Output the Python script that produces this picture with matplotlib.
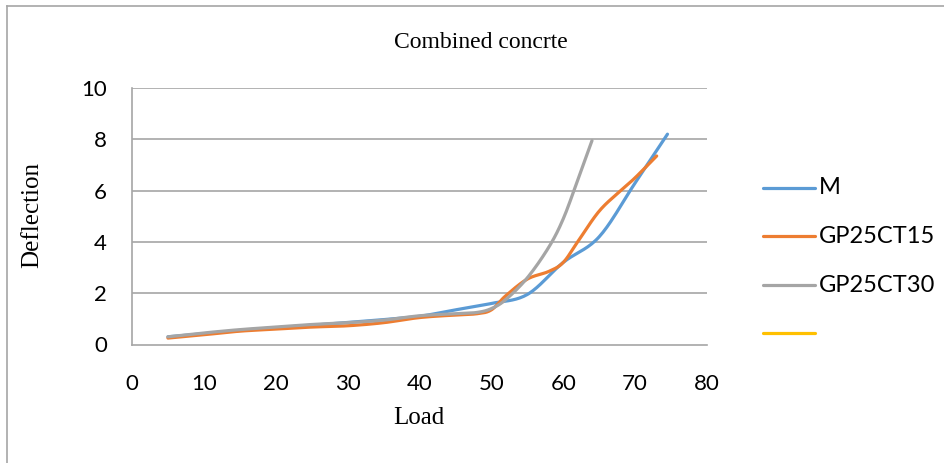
import numpy as np
import matplotlib
matplotlib.use("Agg")
import matplotlib.pyplot as plt
from matplotlib.lines import Line2D

# ---- data ----
load_m = [5, 10, 15, 20, 25, 30, 35, 40, 45, 50, 55, 60, 65, 70, 74.5]
defl_m = [0.3, 0.42, 0.55, 0.65, 0.75, 0.86, 0.97, 1.1, 1.35, 1.6, 1.95, 3.2, 4.2, 6.3, 8.2]

load_c15 = [5, 10, 15, 20, 25, 30, 35, 40, 45, 48, 50, 52, 55, 58, 60, 62, 65, 68, 70, 73]
defl_c15 = [0.25, 0.38, 0.52, 0.6, 0.68, 0.73, 0.85, 1.05, 1.15, 1.2, 1.35, 1.9, 2.55, 2.85, 3.2, 4.0, 5.2, 6.0, 6.5, 7.35]

load_c30 = [5, 10, 15, 20, 25, 30, 35, 40, 45, 48, 50, 52, 55, 58, 60, 62, 64]
defl_c30 = [0.3, 0.45, 0.58, 0.68, 0.78, 0.85, 0.95, 1.12, 1.2, 1.25, 1.4, 1.75, 2.6, 3.8, 4.9, 6.4, 7.95]

series_names = ["M", "GP25CT15", "GP25CT30", ""]
colors = ["#5B9BD5", "#ED7D31", "#A5A5A5", "#FFC000"]
x_ticks = [0, 10, 20, 30, 40, 50, 60, 70, 80]
y_ticks = [0, 2, 4, 6, 8, 10]

W, H = 945, 463


def smooth(x, y, n=20):
    """Excel-like smoothed line (Catmull-Rom Bezier) drawn through the points."""
    P = np.column_stack([np.asarray(x, float), np.asarray(y, float)])
    out = [P[0]]
    t = np.linspace(0, 1, n)[1:]
    for i in range(len(P) - 1):
        p0 = P[i - 1] if i > 0 else P[i]
        p1 = P[i]
        p2 = P[i + 1]
        p3 = P[i + 2] if i + 2 < len(P) else P[i + 1]
        c1 = p1 + (p2 - p0) / 6.0
        c2 = p2 - (p3 - p1) / 6.0
        for tt in t:
            b = ((1 - tt) ** 3) * p1 + 3 * ((1 - tt) ** 2) * tt * c1 + 3 * (1 - tt) * tt ** 2 * c2 + tt ** 3 * p2
            out.append(b)
    out = np.array(out)
    return out[:, 0], out[:, 1]


def fx(px):
    return px / W


def fy(py):
    return 1 - py / H


fig = plt.figure(figsize=(9.45, 4.63), dpi=100)
fig.patch.set_facecolor("white")

# outer chart border (only top and left are visible in the reference)
fig.add_artist(Line2D([fx(7), fx(7)], [0, fy(6)], transform=fig.transFigure, color="#A6A6A6", lw=1.2))
fig.add_artist(Line2D([fx(7), 1], [fy(6), fy(6)], transform=fig.transFigure, color="#A6A6A6", lw=1.2))

ax = fig.add_axes([fx(132), fy(344.5), (707 - 132) / W, (344.5 - 88) / H])
ax.set_xlim(0, 80)
ax.set_ylim(0, 10)

for yt in y_ticks[1:]:
    ax.axhline(yt, color="#A6A6A6", lw=1.2, zorder=1)

for name, xs, ys, c in zip(series_names[:3], [load_m, load_c15, load_c30], [defl_m, defl_c15, defl_c30], colors[:3]):
    sx, sy = smooth(xs, ys)
    ax.plot(sx, sy, color=c, lw=2.3, solid_capstyle="round", zorder=3, label=name)

for s in ["top", "right"]:
    ax.spines[s].set_visible(False)
for s in ["left", "bottom"]:
    ax.spines[s].set_color("#A6A6A6")
    ax.spines[s].set_linewidth(1.2)

ax.set_xticks(x_ticks)
ax.set_yticks(y_ticks)
ax.tick_params(length=0, labelsize=16)
ax.tick_params(axis="x", pad=21)
ax.tick_params(axis="y", pad=18)
for lab in ax.get_xticklabels() + ax.get_yticklabels():
    lab.set_fontfamily("Lato")

fig.text(fx(419), fy(418), "Load", fontfamily="Liberation Serif", fontsize=18, ha="center", va="center")
fig.text(fx(32), fy(215), "Deflection", fontfamily="Liberation Serif", fontsize=18,
         ha="center", va="center", rotation=90)
fig.text(fx(481), fy(42), "Combined concrte", fontfamily="Liberation Serif",
         fontsize=17, ha="center", va="center")

# legend
leg_y = [188, 236.5, 285, 333]
for name, c, py in zip(series_names, colors, leg_y):
    fig.add_artist(Line2D([fx(763), fx(815)], [fy(py), fy(py)], transform=fig.transFigure,
                          color=c, lw=2.3, solid_capstyle="round"))
    if name:
        fig.text(fx(819), fy(py), name, fontfamily="Lato", fontsize=17, ha="left", va="center")

fig.savefig("out.png", dpi=100, facecolor="white")
